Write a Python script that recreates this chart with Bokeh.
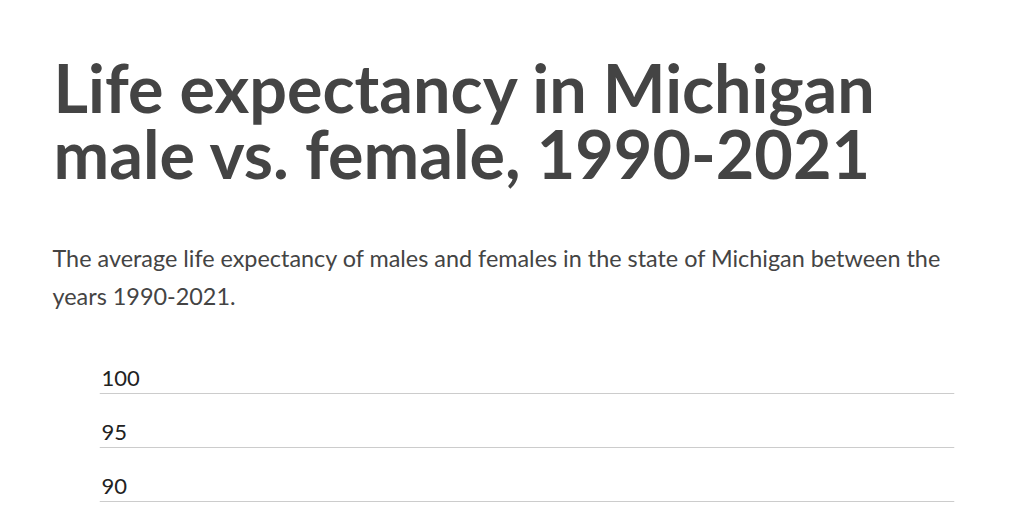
from bokeh.plotting import figure
from bokeh.models import Range1d, FixedTicker, Title, Grid
from bokeh.embed import file_html
from bokeh.resources import INLINE
from bokeh.core.properties import value

title_lines = ["Life expectancy in Michigan", "male vs. female, 1990-2021"]
subtitle_lines = [
    "The average life expectancy of males and females in the state of Michigan between the",
    "years 1990-2021.",
]
y_ticks = [90, 95, 100]
y_tick_labels = ["90", "95", "100"]

p = figure(width=1008, height=504, output_backend="svg", toolbar_location=None,
           x_range=Range1d(0, 1), y_range=Range1d(89.69, 103.03),
           x_axis_type=None, y_axis_type=None,
           min_border_left=99, min_border_right=54, min_border_top=360, min_border_bottom=0)
p.outline_line_color = None
p.background_fill_color = "white"
p.border_fill_color = "white"

grid = Grid(dimension=1, ticker=FixedTicker(ticks=y_ticks),
            grid_line_color="#cccccc", grid_line_width=1.2)
p.add_layout(grid)

p.text(x=[0] * len(y_ticks), y=y_ticks, text=y_tick_labels,
       text_align="left", text_baseline="bottom", x_offset=2, y_offset=-7,
       text_font=value("Lato"), text_font_size="22px", text_color="#222222")

sub = Title(text="\n".join(subtitle_lines), text_font="Lato", text_font_size="23.4px",
            text_font_style="normal", text_color="#444444", align="left", offset=-47,
            standoff=101, text_line_height=1.35)
p.add_layout(sub, "above")
main = Title(text="\n".join(title_lines), text_font="Lato", text_font_size="66.5px",
             text_font_style="bold", text_color="#444444", align="left", offset=-46,
             standoff=-4, text_line_height=0.833)
p.add_layout(main, "above")

open("out.html", "w").write(file_html(p, INLINE))
